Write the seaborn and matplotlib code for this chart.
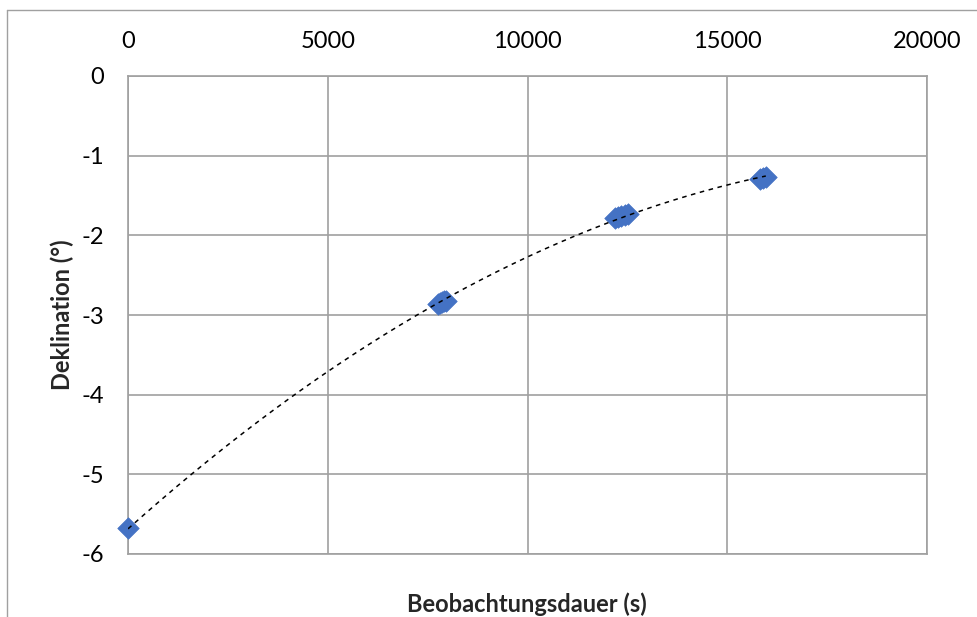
import matplotlib
matplotlib.use('Agg')
import matplotlib.pyplot as plt
import seaborn as sns
import pandas as pd
import numpy as np

# Messwerte: Beobachtungsdauer (s) und Deklination (Grad)
dauer = [0, 7750, 7800, 7850, 7900, 7950,
         12190, 12270, 12350, 12430, 12510,
         15815, 15890, 15965]
deklination = [-5.67, -2.86, -2.85, -2.84, -2.83, -2.82,
               -1.78, -1.77, -1.76, -1.745, -1.73,
               -1.29, -1.28, -1.27]

x_ticks = [0, 5000, 10000, 15000, 20000]
y_ticks = [0, -1, -2, -3, -4, -5, -6]

df = pd.DataFrame({'Beobachtungsdauer (s)': dauer, 'Deklination': deklination})

# polynomial trendline (order 2), like the Excel one
coef = np.polyfit(df['Beobachtungsdauer (s)'], df['Deklination'], 2)
x_fit = np.linspace(0, max(dauer), 200)
trend = pd.DataFrame({'x': x_fit, 'y': np.polyval(coef, x_fit)})

sns.set_theme(style='white')
plt.rcParams['font.family'] = ['Lato', 'DejaVu Sans']

fig = plt.figure(figsize=(9.78, 6.17), dpi=100)
ax = fig.add_axes([128 / 978, 1 - 554 / 617, 799 / 978, 478 / 617])

sns.scatterplot(data=df, x='Beobachtungsdauer (s)', y='Deklination', ax=ax,
                marker='D', s=120, color='#4472C4', edgecolor='#4472C4',
                linewidth=0.5, zorder=3, clip_on=False)
sns.lineplot(data=trend, x='x', y='y', ax=ax, color='black',
             linestyle=(0, (3, 3)), linewidth=1.1, zorder=4)

ax.set_xlim(0, 20000)
ax.set_ylim(-6, 0)
ax.set_xticks(x_ticks)
ax.set_yticks(y_ticks)
ax.set_xticklabels([str(t) for t in x_ticks])
ax.set_yticklabels([str(t) for t in y_ticks])
ax.xaxis.tick_top()
ax.tick_params(axis='both', length=0, labelsize=17, colors='black')
ax.tick_params(axis='x', pad=17)
ax.tick_params(axis='y', pad=17)

ax.grid(True, color='#a0a0a0', linewidth=1.2)
ax.set_axisbelow(True)
for side in ['top', 'bottom', 'left', 'right']:
    ax.spines[side].set_color('#a0a0a0')
    ax.spines[side].set_linewidth(1.2)

ax.set_xlabel('')
ax.set_ylabel('')
fig.text(527 / 978, 1 - 604 / 617, 'Beobachtungsdauer (s)', ha='center', va='center',
         fontsize=17, fontweight='bold')
fig.text(62 / 978, 1 - 315 / 617, 'Deklination (°)', ha='center', va='center',
         rotation=90, fontsize=17, fontweight='bold')

# chart frame (cut off right and bottom)
fig.add_artist(plt.Line2D([7.5 / 978, 7.5 / 978], [0, 1 - 9.5 / 617],
                          transform=fig.transFigure, color='#a0a0a0', linewidth=1))
fig.add_artist(plt.Line2D([7.5 / 978, 1], [1 - 9.5 / 617, 1 - 9.5 / 617],
                          transform=fig.transFigure, color='#a0a0a0', linewidth=1))

plt.savefig('out.png', dpi=100)
plt.close()
